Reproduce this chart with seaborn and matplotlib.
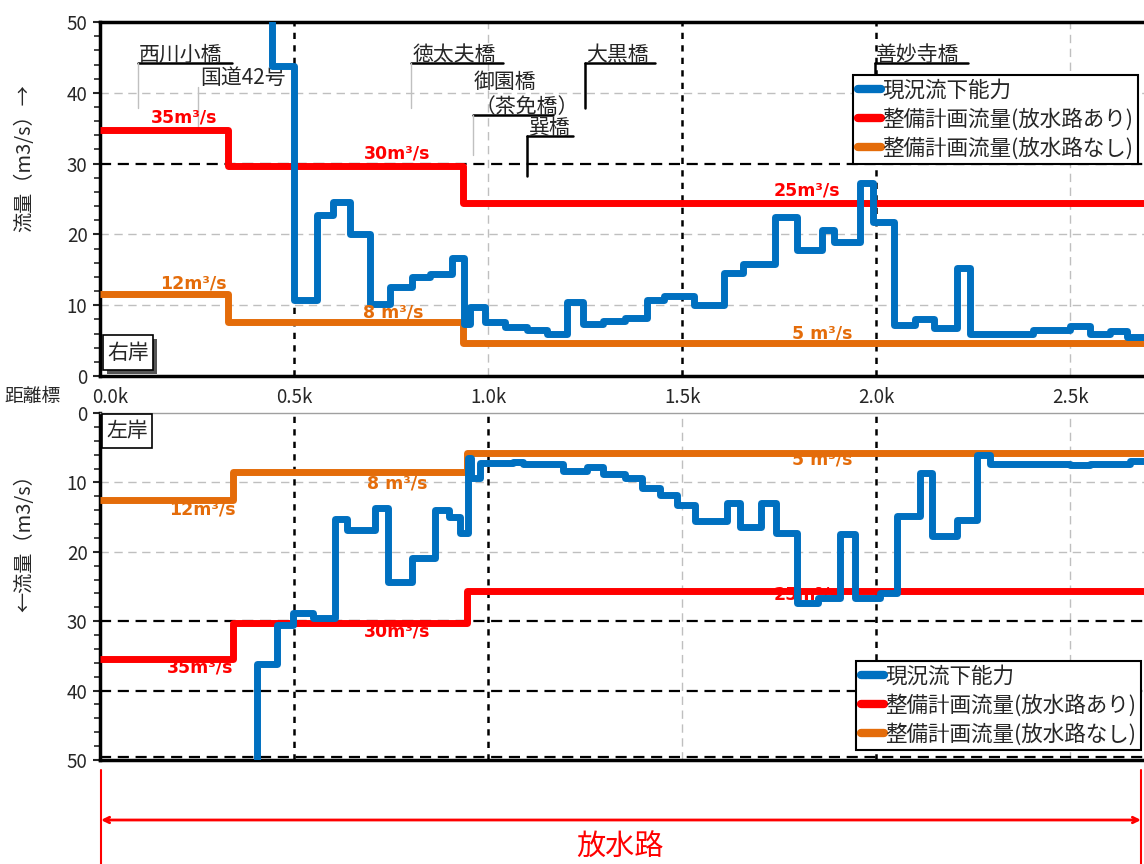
import numpy as np
import matplotlib.pyplot as plt
import matplotlib.ticker as mticker
import matplotlib.transforms as mtransforms
import pandas as pd
import seaborn as sns
from matplotlib.patches import Rectangle
from matplotlib.lines import Line2D

sns.set_style('white')
plt.rcParams['font.family'] = ['Noto Sans CJK JP', 'DejaVu Sans']

X_END = 2.69  # 図の右端 (km)

# 右岸 現況流下能力: 区切り距離標 (km) と流量 (m3/s)、60 は図の外
right_km = [0.442, 0.442, 0.499, 0.558, 0.601, 0.644, 0.696, 0.747, 0.803, 0.851,
            0.906, 0.937, 0.954, 0.992, 1.044, 1.100, 1.151, 1.203, 1.245, 1.297,
            1.353, 1.409, 1.452, 1.530, 1.607, 1.658, 1.740, 1.795, 1.860, 1.890,
            1.959, 1.993, 2.045, 2.100, 2.148, 2.208, 2.242, 2.405, 2.500, 2.552,
            2.603, 2.646]
right_q = [60.0, 43.8, 10.8, 22.8, 24.6, 20.1, 10.2, 12.6, 14.0, 14.4,
           16.6, 7.4, 9.7, 7.6, 6.9, 6.5, 6.0, 10.4, 7.4, 7.8,
           8.2, 10.8, 11.3, 10.0, 14.5, 15.8, 22.5, 17.8, 20.6, 18.9,
           27.2, 21.8, 7.2, 8.0, 6.8, 15.3, 6.0, 6.5, 7.0, 6.0,
           6.4, 5.5]

# 左岸 現況流下能力
left_km = [0.404, 0.404, 0.455, 0.498, 0.550, 0.606, 0.636, 0.709, 0.743, 0.803,
           0.864, 0.898, 0.928, 0.949, 0.955, 0.979, 1.065, 1.090, 1.194, 1.254,
           1.297, 1.353, 1.396, 1.443, 1.486, 1.534, 1.615, 1.649, 1.703, 1.742,
           1.796, 1.851, 1.907, 1.946, 2.010, 2.053, 2.113, 2.143, 2.208, 2.259,
           2.294, 2.500, 2.552, 2.655]
left_q = [60.0, 36.1, 30.5, 28.8, 29.6, 15.3, 16.8, 13.7, 24.3, 20.9,
          14.0, 15.0, 17.3, 6.5, 9.4, 7.2, 7.0, 7.3, 8.3, 7.8,
          8.8, 9.4, 10.8, 11.8, 13.2, 15.6, 13.0, 16.4, 13.0, 17.3,
          27.4, 26.7, 17.5, 26.7, 26.0, 14.9, 8.7, 17.7, 15.4, 6.0,
          7.3, 7.5, 7.3, 6.9]

# 整備計画流量
plan_right_km = [0.0, 0.331, 0.936]
plan_right_with = [34.7, 29.7, 24.5]
plan_right_without = [11.6, 7.6, 4.6]
plan_left_km = [0.0, 0.344, 0.946]
plan_left_with = [35.4, 30.3, 25.7]
plan_left_without = [12.6, 8.5, 5.8]

rate_texts = ['35m³/s', '30m³/s', '25m³/s', '12m³/s', '8 m³/s', '5 m³/s']
series_names = ['現況流下能力', '整備計画流量(放水路あり)', '整備計画流量(放水路なし)']
x_ticks = [0.0, 0.5, 1.0, 1.5, 2.0, 2.5]
x_tick_labels = ['0.0k', '0.5k', '1.0k', '1.5k', '2.0k', '2.5k']

BLUE = '#0070C0'
RED = '#FF0000'
ORANGE = '#E46C0A'


def steps(km, q):
    return pd.DataFrame({'km': list(km) + [X_END], 'q': list(q) + [q[-1]]})


def draw_series(ax, km, q, color, z):
    sns.lineplot(data=steps(km, q), x='km', y='q', color=color, linewidth=5,
                 drawstyle='steps-post', estimator=None, sort=False, ax=ax,
                 zorder=z, solid_joinstyle='round', solid_capstyle='butt')


fig = plt.figure(figsize=(11.44, 8.64), dpi=100)
ax1 = fig.add_axes([0.0874, 0.5648, 0.9126, 0.4097])
ax2 = fig.add_axes([0.0874, 0.1204, 0.9126, 0.4016])

# 上段: 右岸
draw_series(ax1, plan_right_km, plan_right_with, RED, 4)
draw_series(ax1, plan_right_km, plan_right_without, ORANGE, 4)
draw_series(ax1, right_km, right_q, BLUE, 5)

# 下段: 左岸
draw_series(ax2, plan_left_km, plan_left_with, RED, 4)
draw_series(ax2, plan_left_km, plan_left_without, ORANGE, 4)
draw_series(ax2, left_km, left_q, BLUE, 5)

ax1.set_ylim(0, 50)
ax2.set_ylim(50, 0)
for ax in (ax1, ax2):
    ax.set_xlim(0, X_END)
    ax.set_xlabel('')
    ax.set_ylabel('')
    ax.set_yticks(range(0, 51, 10))
    ax.yaxis.set_minor_locator(mticker.MultipleLocator(2))
    ax.tick_params(axis='y', which='major', direction='out', length=5, width=1.5,
                   labelsize=13.5, pad=4, left=True)
    ax.tick_params(axis='y', which='minor', direction='out', length=4, width=1.2, left=True)
    ax.spines['right'].set_visible(False)
    ax.spines['left'].set_linewidth(2.5)
    ax.spines['left'].set_color('black')

ax1.set_xticks(x_ticks)
ax1.set_xticklabels(x_tick_labels)
ax1.tick_params(axis='x', length=0, labelsize=13.5, pad=8)
# 0.0k は y 軸の数字と重ならないよう少し右へ
first = ax1.get_xticklabels()[0]
first.set_transform(first.get_transform() +
                    mtransforms.ScaledTranslation(7 / 72, 0, fig.dpi_scale_trans))
for s in ('top', 'bottom'):
    ax1.spines[s].set_linewidth(2.5)
    ax1.spines[s].set_color('black')
ax2.set_xticks(x_ticks)
ax2.tick_params(axis='x', length=0, labelbottom=False)
ax2.spines['top'].set_linewidth(1)
ax2.spines['top'].set_color('#A0A0A0')
ax2.spines['bottom'].set_linewidth(2.5)
ax2.spines['bottom'].set_color('black')

# 補助線
grid_gray = dict(color='#BFBFBF', lw=1, ls=(0, (6, 4)), zorder=1)
grid_dash = dict(color='black', lw=1.6, ls=(0, (5, 3)), zorder=2)
grid_dot = dict(color='black', lw=1.8, ls=(0, (2.5, 2.5)), zorder=2)
for y in (10, 20, 40):
    ax1.axhline(y, **grid_gray)
ax1.axhline(30, **grid_dash)
for x in (1.0, 2.5):
    ax1.axvline(x, **grid_gray)
for x in (0.5, 1.5, 2.0):
    ax1.axvline(x, **grid_dot)
for y in (10, 20):
    ax2.axhline(y, **grid_gray)
for y in (30, 40, 49.6):
    ax2.axhline(y, **grid_dash)
for x in (1.5, 2.5):
    ax2.axvline(x, **grid_gray)
for x in (0.5, 1.0, 2.0):
    ax2.axvline(x, **grid_dot)

# 流量ラベル
rate_style = dict(fontsize=12.5, fontweight='bold', ha='center', va='center',
                  family=['DejaVu Sans'])
top_rate_pos = [(0.216, 36.5), (0.765, 31.5), (1.822, 26.2),
                (0.240, 13.1), (0.755, 9.0), (1.861, 6.0)]
bot_rate_pos = [(0.258, 36.7), (0.765, 31.5), (1.822, 26.1),
                (0.263, 13.9), (0.765, 10.1), (1.861, 6.7)]
rate_colors = [RED, RED, RED, ORANGE, ORANGE, ORANGE]
for t, (x, y), c in zip(rate_texts, top_rate_pos, rate_colors):
    ax1.text(x, y, t, color=c, zorder=6, **rate_style)
for t, (x, y), c in zip(rate_texts, bot_rate_pos, rate_colors):
    ax2.text(x, y, t, color=c, zorder=3, **rate_style)

# 橋の名前 (引出線)
bridges = [
    ('西川小橋', 0.098, 44.2, 37.8, 0.340, '#C0C0C0'),
    ('徳太夫橋', 0.802, 44.2, 37.8, 1.039, '#C0C0C0'),
    ('御園橋\n（茶免橋）', 0.961, 36.8, 31.2, 1.168, '#C0C0C0'),
    ('巽橋', 1.101, 33.9, 28.3, 1.219, 'black'),
    ('大黒橋', 1.250, 44.2, 37.9, 1.430, 'black'),
    ('善妙寺橋', 1.997, 44.2, 42.5, 2.237, 'black'),
]
for name, x, uy, by, xe, lc in bridges:
    ax1.plot([x, xe], [uy, uy], color='black', lw=1.8, zorder=3)
    ax1.plot([x, x], [uy, by], color=lc, lw=1.8 if lc == 'black' else 1, zorder=3)
    ax1.text(x + 0.003, uy + 0.35, name, fontsize=15, ha='left', va='baseline',
             linespacing=1.2, zorder=3)
ax1.plot([0.253, 0.253], [40.8, 35.1], color='#C0C0C0', lw=1, zorder=3)
ax1.text(0.258, 41.2, '国道42号', fontsize=15, ha='left', va='baseline', zorder=3)

# 右岸・左岸 ボックス
ax1.add_patch(Rectangle((0.007, 0.005), 0.048, 0.099, transform=ax1.transAxes,
                        facecolor='#555555', edgecolor='none', zorder=6))
ax1.add_patch(Rectangle((0.003, 0.017), 0.048, 0.099, transform=ax1.transAxes,
                        facecolor='white', edgecolor='black', lw=1.2, zorder=7))
ax1.text(0.027, 0.066, '右岸', transform=ax1.transAxes, fontsize=15,
         ha='center', va='center', zorder=8)
ax2.add_patch(Rectangle((0.002, 0.9), 0.048, 0.098, transform=ax2.transAxes,
                        facecolor='white', edgecolor='black', lw=1.2, zorder=7))
ax2.text(0.026, 0.949, '左岸', transform=ax2.transAxes, fontsize=15,
         ha='center', va='center', zorder=8)

# 凡例
handles = [Line2D([], [], color=c, lw=6, solid_capstyle='round') for c in (BLUE, RED, ORANGE)]
leg_style = dict(fontsize=15.5, frameon=True, fancybox=False, edgecolor='black',
                 framealpha=1, borderpad=0.2, labelspacing=0.3, handlelength=1.1,
                 handletextpad=0.05, borderaxespad=0)
leg1 = ax1.legend(handles, series_names, loc='upper right',
                  bbox_to_anchor=(0.994, 0.850), **leg_style)
leg2 = ax2.legend(handles, series_names, loc='lower right',
                  bbox_to_anchor=(0.997, 0.029), **leg_style)
for leg in (leg1, leg2):
    leg.get_frame().set_linewidth(1.5)
    leg.set_zorder(10)

# 軸ラベル
fig.text(25 / 1144, 1 - 158 / 864, '流量（m3/s）→', rotation=90, fontsize=14.5,
         ha='center', va='center')
fig.text(25 / 1144, 1 - 538 / 864, '←流量（m3/s）', rotation=90, fontsize=14.5,
         ha='center', va='center')
fig.text(4 / 1144, 1 - 397 / 864, '距離標', fontsize=13.5, ha='left', va='center')

# 放水路 区間
for xp in (101, 1141):
    fig.add_artist(Line2D([xp / 1144, xp / 1144], [94 / 864, 0], color='red', lw=1.5,
                          transform=fig.transFigure))
ax2.annotate('', xy=(101, 44), xytext=(1141, 44), xycoords='figure pixels',
             textcoords='figure pixels', annotation_clip=False,
             arrowprops=dict(arrowstyle='<->', color='red', lw=2, shrinkA=0, shrinkB=0))
fig.text(620 / 1144, 16 / 864, '放水路', color='red', fontsize=21, ha='center', va='center')

plt.savefig('out.png', dpi=100)
